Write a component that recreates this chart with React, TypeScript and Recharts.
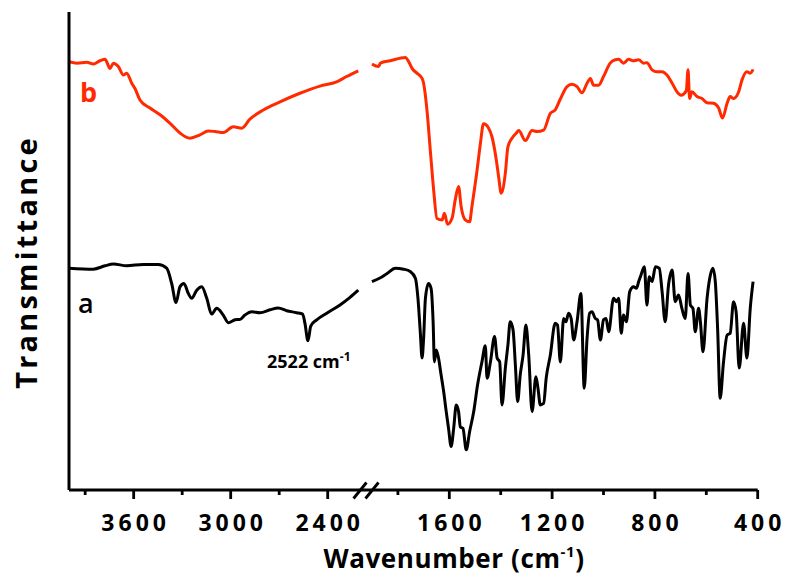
import React from "react";
import { LineChart, Line, XAxis, YAxis } from "recharts";

// ---- Data (wavenumber in cm-1, transmittance in arbitrary units) ----
const bLeftWn = [4000, 3950, 3890, 3850, 3808, 3777, 3746, 3726, 3695, 3664, 3643, 3612, 3592, 3561, 3499, 3437, 3375, 3314, 3252, 3190, 3139, 3097, 3046, 2984, 2932, 2881, 2798, 2695, 2572, 2448, 2345, 2283, 2211];
const bLeftT = [89.6, 89.3, 89.5, 89.1, 89.8, 90.1, 88.2, 89.3, 88.6, 86.8, 87.2, 85.1, 84.0, 81.6, 79.9, 78.5, 76.7, 74.7, 73.6, 74.3, 75.1, 75.0, 74.8, 76.0, 75.7, 77.6, 79.5, 81.2, 83.0, 84.5, 85.4, 86.5, 87.7];

const bRightWn = [1901, 1875, 1868, 1830, 1771, 1758, 1745, 1726, 1706, 1700, 1687, 1674, 1661, 1648, 1628, 1619, 1607, 1589, 1577, 1564, 1554, 1538, 1521, 1512, 1492, 1479, 1467, 1447, 1434, 1417, 1408, 1398, 1382, 1372, 1356, 1339, 1330, 1304, 1278, 1259, 1233, 1207, 1188, 1168, 1142, 1123, 1103, 1084, 1064, 1051, 1039, 1019, 1000, 974, 954, 941, 922, 902, 883, 863, 844, 831, 811, 792, 772, 753, 733, 714, 698, 678, 671, 665, 656, 636, 617, 597, 572, 552, 537, 519, 507, 494, 474, 461, 442, 429, 418];
const bRightT = [89.1, 88.6, 89.3, 89.8, 90.5, 89.6, 88.2, 87.2, 86.1, 85.1, 79.5, 71.1, 62.8, 56.8, 56.5, 57.9, 55.6, 56.9, 60.7, 63.5, 59.3, 56.5, 56.1, 59.3, 66.9, 72.5, 76.6, 75.7, 73.9, 69.0, 65.5, 62.1, 66.3, 71.8, 73.6, 74.7, 75.2, 73.1, 75.2, 75.0, 75.3, 78.8, 79.5, 81.8, 84.4, 84.9, 84.4, 83.1, 85.1, 86.1, 84.7, 84.7, 86.5, 89.3, 90.0, 90.1, 89.3, 90.1, 89.8, 90.0, 89.3, 89.4, 87.9, 87.5, 87.5, 86.8, 85.1, 83.3, 82.6, 83.5, 87.9, 81.9, 83.3, 82.3, 81.9, 81.0, 80.9, 79.9, 77.8, 80.9, 82.3, 81.9, 83.3, 85.8, 87.5, 87.2, 88.0];

const aLeftWn = [4000, 3850, 3777, 3726, 3643, 3541, 3448, 3396, 3365, 3338, 3314, 3289, 3262, 3241, 3210, 3179, 3148, 3118, 3087, 3046, 3015, 2973, 2942, 2912, 2870, 2819, 2757, 2706, 2654, 2592, 2555, 2541, 2522, 2505, 2468, 2406, 2324, 2262, 2211];
const aLeftT = [46.4, 46.2, 46.9, 47.3, 46.9, 47.2, 47.2, 46.4, 43.2, 39.2, 42.5, 43.2, 41.1, 40.1, 41.8, 42.5, 40.1, 36.8, 38.0, 36.6, 35.0, 35.6, 35.7, 36.6, 37.3, 37.1, 37.7, 38.1, 37.5, 37.1, 36.8, 34.9, 31.2, 34.3, 35.6, 37.0, 38.7, 40.3, 41.8];

const aRightWn = [1901, 1868, 1842, 1810, 1778, 1752, 1732, 1722, 1713, 1706, 1700, 1693, 1681, 1671, 1663, 1658, 1651, 1642, 1632, 1622, 1612, 1603, 1593, 1583, 1573, 1564, 1557, 1547, 1534, 1521, 1505, 1490, 1473, 1460, 1453, 1440, 1424, 1414, 1404, 1395, 1382, 1372, 1363, 1352, 1343, 1334, 1324, 1313, 1302, 1291, 1278, 1263, 1255, 1246, 1233, 1223, 1207, 1188, 1179, 1168, 1155, 1146, 1136, 1126, 1116, 1103, 1088, 1075, 1064, 1054, 1045, 1032, 1023, 1012, 1000, 990, 980, 961, 950, 941, 931, 922, 911, 898, 883, 872, 863, 854, 841, 831, 822, 811, 798, 783, 772, 760, 747, 733, 721, 708, 695, 682, 671, 662, 652, 643, 630, 623, 613, 597, 584, 574, 565, 556, 546, 533, 519, 507, 494, 484, 472, 455, 442, 429, 418];
const aRightT = [43.6, 44.4, 45.3, 46.4, 46.2, 45.7, 44.3, 40.1, 33.1, 27.6, 31.7, 40.1, 43.2, 42.2, 35.2, 26.8, 29.3, 27.6, 24.1, 20.6, 16.4, 12.9, 9.1, 12.9, 17.8, 16.4, 13.2, 12.9, 8.4, 12.2, 16.4, 22.0, 26.8, 30.2, 23.4, 26.8, 32.1, 27.6, 26.8, 17.8, 25.5, 30.3, 35.2, 33.5, 26.2, 18.5, 24.1, 28.2, 34.5, 28.2, 16.4, 23.7, 21.3, 17.8, 18.1, 23.4, 28.2, 34.9, 34.5, 26.8, 35.9, 35.2, 37.0, 35.9, 31.4, 35.2, 41.1, 21.3, 31.7, 37.0, 37.3, 35.9, 35.6, 31.4, 35.6, 35.9, 33.1, 40.1, 39.4, 40.1, 32.8, 36.6, 35.2, 41.5, 42.5, 42.2, 43.6, 45.0, 46.7, 38.7, 44.6, 43.6, 46.7, 46.4, 41.5, 35.2, 42.9, 46.0, 39.4, 40.8, 38.0, 35.9, 45.3, 38.7, 38.0, 33.1, 38.0, 35.2, 28.9, 40.1, 45.0, 46.4, 43.6, 33.8, 19.2, 26.8, 32.4, 32.8, 39.4, 37.3, 25.5, 34.9, 27.6, 38.0, 43.6];

const leftTicks = [3900, 3600, 3300, 3000, 2700, 2400];
const leftMajor = [3600, 3000, 2400];
const rightTicks = [1800, 1600, 1400, 1200, 1000, 800, 600, 400];
const rightMajor = [1600, 1200, 800, 400];

const zip = (wn: number[], t: number[]) => wn.map((w, i) => ({ wn: w, t: t[i] }));
const bLeft = zip(bLeftWn, bLeftT);
const bRight = zip(bRightWn, bRightT);
const aLeft = zip(aLeftWn, aLeftT);
const aRight = zip(aRightWn, aRightT);

const RED = "#ff2a00";
const FONT = "'Open Sans', 'DejaVu Sans', sans-serif";
const SW = 3;

const makeTick = (majors: number[]) => (props: any) => {
  const { x, y, payload } = props;
  const major = majors.includes(payload.value);
  return (
    <g>
      <line x1={x} y1={y} x2={x} y2={y + (major ? 9 : 5)} stroke="#000" strokeWidth={2.8} />
      {major && (
        <text x={x + 2} y={y + 41} textAnchor="middle" fontFamily={FONT} fontWeight={700} fontSize={23} letterSpacing={4} fill="#000">
          {payload.value}
        </text>
      )}
    </g>
  );
};

const axisLine = { stroke: "#000", strokeWidth: 3 };

export default function App() {
  return (
    <div style={{ position: "absolute", left: 0, top: 0, width: 787, height: 578, background: "#fff" }}>
      <div style={{ position: "absolute", left: 0, top: 0 }}>
        <LineChart width={370} height={578} margin={{ top: 12, right: 5.1, bottom: 0, left: 0 }}>
          <XAxis
            type="number"
            dataKey="wn"
            domain={[2170, 4000]}
            allowDataOverflow
            reversed
            ticks={leftTicks}
            interval={0}
            tickSize={0}
            tickMargin={0}
            tickLine={false}
            axisLine={axisLine}
            tick={makeTick(leftMajor)}
            height={88}
          />
          <YAxis type="number" domain={[0, 100]} allowDataOverflow width={69} tick={false} tickLine={false} axisLine={axisLine} />
          <Line data={bLeft} dataKey="t" type="monotone" stroke={RED} strokeWidth={SW} dot={false} isAnimationActive={false} />
          <Line data={aLeft} dataKey="t" type="monotone" stroke="#000" strokeWidth={SW} dot={false} isAnimationActive={false} />
        </LineChart>
      </div>
      <div style={{ position: "absolute", left: 360, top: 0 }}>
        <LineChart width={427} height={578} margin={{ top: 12, right: 29.3, bottom: 0, left: 4.5 }}>
          <XAxis
            type="number"
            dataKey="wn"
            domain={[400, 1930]}
            allowDataOverflow
            reversed
            ticks={rightTicks}
            interval={0}
            tickSize={0}
            tickMargin={0}
            tickLine={false}
            axisLine={axisLine}
            tick={makeTick(rightMajor)}
            height={88}
          />
          <YAxis type="number" domain={[0, 100]} allowDataOverflow width={0} hide />
          <Line data={bRight} dataKey="t" type="monotone" stroke={RED} strokeWidth={SW} dot={false} isAnimationActive={false} />
          <Line data={aRight} dataKey="t" type="monotone" stroke="#000" strokeWidth={SW} dot={false} isAnimationActive={false} />
        </LineChart>
      </div>
      <svg width={787} height={578} style={{ position: "absolute", left: 0, top: 0, pointerEvents: "none" }}>
        <line x1={353.5} y1={498.5} x2={366.5} y2={482.5} stroke="#000" strokeWidth={2.8} />
        <line x1={365.5} y1={498.5} x2={378.5} y2={482.5} stroke="#000" strokeWidth={2.8} />
        <text x={454} y={568} textAnchor="middle" fontFamily={FONT} fontWeight={700} fontSize={26} letterSpacing={0.6} fill="#000">
          Wavenumber (cm
          <tspan fontSize={15} dy={-11}>-1</tspan>
          <tspan dy={11}>)</tspan>
        </text>
        <text
          x={0}
          y={0}
          transform="translate(37 262) rotate(-90)"
          textAnchor="middle"
          fontFamily={FONT}
          fontWeight={700}
          fontSize={29}
          letterSpacing={3.2}
          fill="#000"
        >
          Transmittance
        </text>
        <text x={80} y={101.7} fontFamily={FONT} fontWeight={700} fontSize={27} fill={RED}>b</text>
        <text x={78} y={313} fontFamily={FONT} fontWeight={600} fontSize={27} fill="#000">a</text>
        <text x={267} y={368} fontFamily={FONT} fontWeight={700} fontSize={18} fill="#000">
          2522 cm
          <tspan fontSize={12} dy={-7}>-1</tspan>
        </text>
      </svg>
    </div>
  );
}
